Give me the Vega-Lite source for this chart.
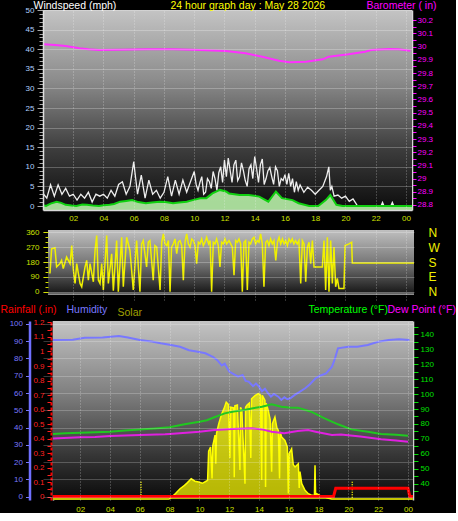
{
  "$schema": "https://vega.github.io/schema/vega-lite/v6.json",
  "background": "#000000",
  "padding": {"left": 0, "top": 0, "right": 0, "bottom": 0},
  "config": {
    "view": {"stroke": null},
    "font": "Liberation Sans",
    "axis": {"labelFont": "Liberation Sans", "titleFont": "Liberation Sans", "labelFontSize": 8, "titleFontSize": 10.5, "titleFontWeight": "normal", "labelOverlap": false, "labelFlush": false, "titlePadding": 0, "zindex": 1}
  },
  "datasets": {
    "gust": [{"h":0,"g":3.2},{"h":0.25,"g":2.0},{"h":0.5,"g":5.4},{"h":0.75,"g":2.5},{"h":1,"g":5.4},{"h":1.25,"g":3.0},{"h":1.5,"g":4.5},{"h":1.75,"g":2.5},{"h":2,"g":3.0},{"h":2.25,"g":1.5},{"h":2.5,"g":3.0},{"h":2.75,"g":2.0},{"h":3,"g":3.5},{"h":3.25,"g":1.0},{"h":3.5,"g":3.0},{"h":3.75,"g":2.5},{"h":4,"g":3.0},{"h":4.25,"g":2.0},{"h":4.5,"g":4.0},{"h":4.75,"g":2.5},{"h":5,"g":5.5},{"h":5.25,"g":6.2},{"h":5.5,"g":3.0},{"h":5.75,"g":5.0},{"h":6,"g":11.3},{"h":6.25,"g":3.0},{"h":6.5,"g":7.9},{"h":6.75,"g":2.0},{"h":7,"g":6.6},{"h":7.25,"g":3.0},{"h":7.5,"g":4.0},{"h":7.75,"g":2.0},{"h":8,"g":3.5},{"h":8.25,"g":7.5},{"h":8.5,"g":2.5},{"h":8.75,"g":6.6},{"h":9,"g":3.0},{"h":9.25,"g":6.6},{"h":9.5,"g":3.5},{"h":9.75,"g":6.2},{"h":10,"g":8.8},{"h":10.125,"g":5.5},{"h":10.25,"g":4.0},{"h":10.375,"g":6.0},{"h":10.5,"g":7.5},{"h":10.625,"g":3.0},{"h":10.75,"g":3.5},{"h":10.875,"g":7.0},{"h":11,"g":6.2},{"h":11.125,"g":4.5},{"h":11.25,"g":8.8},{"h":11.375,"g":7.0},{"h":11.5,"g":4.0},{"h":11.625,"g":8.5},{"h":11.75,"g":10.0},{"h":11.875,"g":6.0},{"h":12,"g":11.7},{"h":12.125,"g":7.5},{"h":12.25,"g":12.2},{"h":12.375,"g":9.0},{"h":12.5,"g":6.0},{"h":12.625,"g":10.5},{"h":12.75,"g":11.7},{"h":12.875,"g":6.5},{"h":13,"g":7.5},{"h":13.125,"g":11.0},{"h":13.25,"g":9.0},{"h":13.375,"g":6.5},{"h":13.5,"g":5.0},{"h":13.625,"g":9.5},{"h":13.75,"g":10.5},{"h":13.875,"g":7.0},{"h":14,"g":12.6},{"h":14.125,"g":9.5},{"h":14.25,"g":6.0},{"h":14.375,"g":10.5},{"h":14.5,"g":12.0},{"h":14.625,"g":5.5},{"h":14.75,"g":7.0},{"h":14.875,"g":9.0},{"h":15,"g":9.8},{"h":15.125,"g":7.5},{"h":15.25,"g":5.5},{"h":15.375,"g":10.0},{"h":15.5,"g":9.0},{"h":15.625,"g":5.0},{"h":15.75,"g":7.0},{"h":15.875,"g":6.5},{"h":16,"g":8.0},{"h":16.125,"g":5.5},{"h":16.25,"g":8.3},{"h":16.375,"g":5.0},{"h":16.5,"g":7.0},{"h":16.625,"g":3.5},{"h":16.75,"g":6.2},{"h":16.875,"g":4.0},{"h":17,"g":5.4},{"h":17.25,"g":3.5},{"h":17.5,"g":4.8},{"h":17.75,"g":4.0},{"h":18,"g":3.0},{"h":18.25,"g":4.0},{"h":18.5,"g":5.0},{"h":18.75,"g":7.5},{"h":18.9,"g":10.0},{"h":19,"g":4.0},{"h":19.1,"g":5.0},{"h":19.25,"g":2.5},{"h":19.5,"g":2.8},{"h":19.75,"g":2.0},{"h":20,"g":2.5},{"h":20.25,"g":1.2},{"h":20.5,"g":1.8},{"h":20.7,"g":0.6},{"h":20.8,"g":0},{"h":22.35,"g":0},{"h":22.45,"g":0.9},{"h":22.55,"g":0},{"h":23.0,"g":0},{"h":23.1,"g":0.9},{"h":23.2,"g":0},{"h":24.4,"g":0}],
    "avg": [{"h":0,"a":0.2},{"h":0.2,"a":0},{"h":0.5,"a":0.6},{"h":0.9,"a":1.1},{"h":1.2,"a":0.8},{"h":1.5,"a":0.3},{"h":1.9,"a":0.1},{"h":2.2,"a":0},{"h":2.6,"a":0.4},{"h":2.9,"a":0.3},{"h":3.3,"a":0.1},{"h":3.7,"a":0},{"h":4.0,"a":0.2},{"h":4.4,"a":0.3},{"h":4.7,"a":0.5},{"h":5.1,"a":1.1},{"h":5.5,"a":1.3},{"h":5.9,"a":1.5},{"h":6.3,"a":1.0},{"h":6.8,"a":0.7},{"h":7.2,"a":0.9},{"h":7.7,"a":1.1},{"h":8.1,"a":1.0},{"h":8.6,"a":0.7},{"h":9.0,"a":0.9},{"h":9.5,"a":1.1},{"h":9.9,"a":1.5},{"h":10.4,"a":2.0},{"h":10.8,"a":2.0},{"h":11.2,"a":3.2},{"h":11.7,"a":4.1},{"h":12.1,"a":3.7},{"h":12.3,"a":3.2},{"h":13.0,"a":2.8},{"h":13.6,"a":2.8},{"h":14.3,"a":2.4},{"h":14.9,"a":1.1},{"h":15.4,"a":3.7},{"h":15.8,"a":2.0},{"h":16.5,"a":1.5},{"h":16.9,"a":0.7},{"h":17.6,"a":0},{"h":18.2,"a":0},{"h":18.7,"a":1.5},{"h":19.0,"a":2.8},{"h":19.4,"a":0.3},{"h":19.8,"a":0},{"h":24.4,"a":0}],
    "baro": [{"h":0,"b":30.018},{"h":0.8,"b":30.012},{"h":1.5,"b":30.005},{"h":2.4,"b":29.988},{"h":3.0,"b":29.98},{"h":3.7,"b":29.975},{"h":5.0,"b":29.977},{"h":6.9,"b":29.98},{"h":8.6,"b":29.98},{"h":10.4,"b":29.975},{"h":12.1,"b":29.967},{"h":13.4,"b":29.95},{"h":14.5,"b":29.924},{"h":15.6,"b":29.894},{"h":16.3,"b":29.882},{"h":17.4,"b":29.886},{"h":18.5,"b":29.904},{"h":18.9,"b":29.924},{"h":20.2,"b":29.942},{"h":21.3,"b":29.962},{"h":21.7,"b":29.975},{"h":22.9,"b":29.982},{"h":23.5,"b":29.98},{"h":24.3,"b":29.97}],
    "dir": [{"h":0.46,"d":110},{"h":0.57,"d":260},{"h":0.79,"d":266},{"h":0.90,"d":150},{"h":1.12,"d":170},{"h":1.23,"d":190},{"h":1.34,"d":140},{"h":1.56,"d":210},{"h":1.79,"d":170},{"h":1.90,"d":280},{"h":2.01,"d":130},{"h":2.12,"d":50},{"h":2.23,"d":170},{"h":2.45,"d":50},{"h":2.56,"d":30},{"h":2.78,"d":150},{"h":2.89,"d":190},{"h":3.00,"d":70},{"h":3.11,"d":170},{"h":3.33,"d":60},{"h":3.44,"d":250},{"h":3.55,"d":340},{"h":3.66,"d":70},{"h":3.77,"d":50},{"h":3.88,"d":170},{"h":3.99,"d":10},{"h":4.21,"d":340},{"h":4.32,"d":50},{"h":4.54,"d":230},{"h":4.65,"d":6},{"h":4.87,"d":310},{"h":4.98,"d":0},{"h":5.20,"d":330},{"h":5.31,"d":30},{"h":5.53,"d":330},{"h":5.75,"d":250},{"h":5.97,"d":10},{"h":6.19,"d":310},{"h":6.41,"d":0},{"h":6.52,"d":290},{"h":6.63,"d":310},{"h":6.85,"d":150},{"h":6.96,"d":300},{"h":7.07,"d":310},{"h":7.29,"d":70},{"h":7.40,"d":280},{"h":7.52,"d":270},{"h":7.74,"d":10},{"h":7.85,"d":300},{"h":7.96,"d":350},{"h":8.07,"d":290},{"h":8.18,"d":280},{"h":8.29,"d":310},{"h":8.40,"d":0},{"h":8.50,"d":270},{"h":8.62,"d":290},{"h":8.73,"d":320},{"h":8.84,"d":230},{"h":8.95,"d":300},{"h":9.06,"d":310},{"h":9.17,"d":280},{"h":9.28,"d":70},{"h":9.39,"d":300},{"h":9.50,"d":350},{"h":9.61,"d":290},{"h":9.72,"d":270},{"h":9.83,"d":320},{"h":9.94,"d":310},{"h":10.05,"d":280},{"h":10.16,"d":170},{"h":10.27,"d":300},{"h":10.38,"d":290},{"h":10.49,"d":320},{"h":10.60,"d":280},{"h":10.71,"d":300},{"h":10.82,"d":330},{"h":10.95,"d":290},{"h":11.05,"d":310},{"h":11.15,"d":0},{"h":11.26,"d":300},{"h":11.37,"d":290},{"h":11.48,"d":320},{"h":11.59,"d":280},{"h":11.70,"d":150},{"h":11.81,"d":300},{"h":11.92,"d":290},{"h":12.03,"d":320},{"h":12.14,"d":290},{"h":12.30,"d":310},{"h":12.41,"d":290},{"h":12.52,"d":270},{"h":12.63,"d":100},{"h":12.74,"d":310},{"h":12.85,"d":300},{"h":12.96,"d":320},{"h":13.07,"d":290},{"h":13.18,"d":0},{"h":13.29,"d":300},{"h":13.40,"d":310},{"h":13.51,"d":10},{"h":13.62,"d":300},{"h":13.73,"d":290},{"h":13.84,"d":320},{"h":13.95,"d":330},{"h":14.06,"d":290},{"h":14.17,"d":310},{"h":14.28,"d":300},{"h":14.39,"d":350},{"h":14.50,"d":290},{"h":14.61,"d":30},{"h":14.72,"d":300},{"h":14.83,"d":310},{"h":14.94,"d":280},{"h":15.05,"d":320},{"h":15.16,"d":290},{"h":15.27,"d":310},{"h":15.39,"d":190},{"h":15.50,"d":300},{"h":15.61,"d":330},{"h":15.72,"d":290},{"h":15.83,"d":320},{"h":15.94,"d":290},{"h":16.05,"d":310},{"h":16.16,"d":280},{"h":16.27,"d":320},{"h":16.38,"d":300},{"h":16.48,"d":320},{"h":16.59,"d":290},{"h":16.70,"d":310},{"h":16.81,"d":290},{"h":16.92,"d":310},{"h":17.04,"d":50},{"h":17.15,"d":310},{"h":17.26,"d":290},{"h":17.37,"d":60},{"h":17.48,"d":270},{"h":17.59,"d":300},{"h":17.70,"d":170},{"h":17.81,"d":310},{"h":17.92,"d":150},{"h":18.03,"d":150},{"h":18.25,"d":150},{"h":18.47,"d":150},{"h":18.58,"d":310},{"h":18.69,"d":10},{"h":18.80,"d":330},{"h":18.91,"d":0},{"h":19.02,"d":310},{"h":19.13,"d":50},{"h":19.24,"d":270},{"h":19.35,"d":30},{"h":19.46,"d":80},{"h":19.57,"d":20},{"h":19.90,"d":20},{"h":19.97,"d":280},{"h":20.23,"d":290},{"h":20.41,"d":300},{"h":20.45,"d":174},{"h":24.53,"d":174}],
    "hum": [{"h":0.17,"v":90.7},{"h":1.5,"v":90.9},{"h":2.3,"v":92},{"h":3.5,"v":92.2},{"h":4.6,"v":93},{"h":5.2,"v":92.2},{"h":6.0,"v":90.7},{"h":6.8,"v":89.8},{"h":7.4,"v":88.8},{"h":8.1,"v":87.8},{"h":8.7,"v":86.8},{"h":9.3,"v":84.8},{"h":9.8,"v":84},{"h":10.4,"v":83},{"h":10.9,"v":81},{"h":11.2,"v":79},{"h":11.5,"v":76},{"h":11.7,"v":77},{"h":12.0,"v":72.4},{"h":12.3,"v":71},{"h":12.6,"v":69.5},{"h":12.9,"v":70.5},{"h":13.1,"v":67},{"h":13.3,"v":66.6},{"h":13.6,"v":64},{"h":13.8,"v":65.5},{"h":14.0,"v":63.7},{"h":14.2,"v":61},{"h":14.4,"v":62.5},{"h":14.6,"v":59.9},{"h":14.8,"v":58},{"h":15.0,"v":59.5},{"h":15.3,"v":57.9},{"h":15.5,"v":56},{"h":15.7,"v":57.5},{"h":15.9,"v":56.4},{"h":16.1,"v":57},{"h":16.4,"v":58.9},{"h":16.7,"v":60.5},{"h":17.1,"v":62.8},{"h":17.4,"v":65},{"h":17.8,"v":68.6},{"h":18.1,"v":70},{"h":18.5,"v":71.4},{"h":18.9,"v":75.3},{"h":19.1,"v":80},{"h":19.3,"v":85.9},{"h":20.0,"v":86.8},{"h":20.6,"v":86.8},{"h":21.3,"v":87.8},{"h":22.0,"v":89.7},{"h":22.7,"v":90.7},{"h":23.4,"v":91.1},{"h":24.1,"v":90.7}],
    "temp": [{"h":0.17,"t":73.3},{"h":1,"t":73.8},{"h":2,"t":74.2},{"h":3,"t":74.5},{"h":4,"t":74.9},{"h":5,"t":75.6},{"h":6,"t":76.4},{"h":7,"t":77.0},{"h":8,"t":77.8},{"h":9,"t":79.8},{"h":10,"t":81.5},{"h":10.5,"t":82.5},{"h":11,"t":84.5},{"h":11.7,"t":87.1},{"h":12.3,"t":88.3},{"h":13,"t":89.3},{"h":13.6,"t":90.5},{"h":14.2,"t":91.5},{"h":14.85,"t":93.1},{"h":15.5,"t":91.5},{"h":16,"t":91.0},{"h":16.6,"t":90.9},{"h":17.5,"t":88.2},{"h":18.4,"t":83.8},{"h":19.3,"t":79.8},{"h":20.2,"t":76.4},{"h":21.3,"t":74.9},{"h":22.2,"t":73.3},{"h":23.2,"t":72.8},{"h":24.0,"t":72.2}],
    "dew": [{"h":0.17,"p":70.4},{"h":2,"p":71.1},{"h":3,"p":71.4},{"h":4,"p":72.0},{"h":6,"p":72.7},{"h":7.7,"p":73.1},{"h":8,"p":73.3},{"h":10,"p":74.9},{"h":11,"p":76.0},{"h":12.2,"p":76.7},{"h":13.5,"p":77.1},{"h":14.2,"p":76.4},{"h":14.85,"p":74.9},{"h":15.7,"p":73.8},{"h":16.6,"p":75.3},{"h":17.3,"p":76.0},{"h":17.8,"p":74.9},{"h":18.9,"p":72.7},{"h":19.5,"p":73.0},{"h":20.8,"p":71.6},{"h":22.2,"p":69.8},{"h":23.2,"p":69.0},{"h":24.0,"p":68.2}],
    "solar": [{"h":0.17,"s":0},{"h":7.95,"s":0},{"h":8.1,"s":10},{"h":8.4,"s":40},{"h":8.7,"s":75},{"h":9.0,"s":100},{"h":9.2,"s":120},{"h":9.45,"s":148},{"h":9.7,"s":130},{"h":9.95,"s":124},{"h":10.2,"s":115},{"h":10.45,"s":130},{"h":10.55,"s":136},{"h":10.62,"s":350},{"h":10.75,"s":380},{"h":10.85,"s":150},{"h":10.9,"s":390},{"h":11.05,"s":467},{"h":11.1,"s":258},{"h":11.15,"s":480},{"h":11.3,"s":550},{"h":11.5,"s":623},{"h":11.65,"s":660},{"h":11.8,"s":708},{"h":11.95,"s":690},{"h":12.05,"s":300},{"h":12.1,"s":670},{"h":12.3,"s":665},{"h":12.34,"s":160},{"h":12.38,"s":680},{"h":12.55,"s":686},{"h":12.72,"s":212},{"h":12.76,"s":670},{"h":12.85,"s":647},{"h":13.06,"s":112},{"h":13.1,"s":670},{"h":13.2,"s":686},{"h":13.35,"s":700},{"h":13.45,"s":300},{"h":13.5,"s":732},{"h":13.75,"s":757},{"h":13.95,"s":769},{"h":14.1,"s":760},{"h":14.18,"s":139},{"h":14.22,"s":757},{"h":14.4,"s":720},{"h":14.44,"s":88},{"h":14.48,"s":700},{"h":14.62,"s":647},{"h":14.75,"s":580},{"h":14.85,"s":200},{"h":14.9,"s":550},{"h":15.07,"s":599},{"h":15.2,"s":520},{"h":15.3,"s":501},{"h":15.38,"s":150},{"h":15.42,"s":490},{"h":15.52,"s":453},{"h":15.74,"s":428},{"h":15.9,"s":380},{"h":15.97,"s":40},{"h":16.02,"s":331},{"h":16.19,"s":367},{"h":16.3,"s":250},{"h":16.42,"s":234},{"h":16.64,"s":258},{"h":16.7,"s":80},{"h":16.75,"s":200},{"h":16.87,"s":112},{"h":17.09,"s":64},{"h":17.31,"s":39},{"h":17.5,"s":30},{"h":17.72,"s":25},{"h":17.76,"s":246},{"h":17.8,"s":30},{"h":17.87,"s":39},{"h":18.09,"s":27},{"h":18.43,"s":15},{"h":18.6,"s":8},{"h":18.88,"s":0},{"h":24.33,"s":0}],
    "rain": [{"h":0.17,"r":0},{"h":19.0,"r":0},{"h":19.15,"r":0.057},{"h":24.0,"r":0.057},{"h":24.12,"r":0},{"h":24.33,"r":0}],
    "sun": [{"event":"sunrise","h":6.08},{"event":"sunset","h":20.26}]
  },
  "bounds": "flush",
  "spacing": 20,
  "vconcat": [
    {
      "width": 369,
      "height": 200,
      "resolve": {"scale": {"y": "independent"}, "axis": {"x": "independent", "y": "independent"}},
      "layer": [
        {
          "data": {"values": [{}]},
          "mark": {"type": "rect", "color": {"gradient": "linear", "x1": 0, "y1": 0, "x2": 0, "y2": 1, "stops": [{"offset": 0, "color": "#c4c4c4"}, {"offset": 0.35, "color": "#8c8c8c"}, {"offset": 0.7, "color": "#3c3c3c"}, {"offset": 1, "color": "#0c0c0c"}]}},
          "encoding": {
            "x": {"datum": 0, "type": "quantitative", "scale": {"domain": [0, 24.4], "nice": false, "zero": false},
              "axis": {"zindex": 1, "values": [2,4,6,8,10,12,14,16,18,20,22,24], "labelExpr": "datum.value == 24 ? '00' : (datum.value < 10 ? '0' + datum.value : '' + datum.value)", "labelOverlap": false, "labelColor": "#d0e000", "labelPadding": 4, "ticks": false, "tickSize": 0, "domain": true, "domainColor": "#d8d8d8", "domainWidth": 1.5, "grid": true, "gridColor": "#ffffff", "gridOpacity": 0.4, "gridDash": [1, 2], "title": "24 hour graph day : May 28 2026", "titleColor": "#ffff00", "titleX": 127, "titleY": -205, "titleAlign": "left", "titleBaseline": "middle", "titleAngle": 0}},
            "x2": {"datum": 24.4}
          }
        },
        {
          "resolve": {"axis": {"x": "independent", "y": "independent"}},
          "layer": [
            {
              "data": {"name": "avg"},
              "mark": {"type": "area", "color": "#b8f0a8", "opacity": 0.9, "clip": true},
              "encoding": {
                "x": {"field": "h", "type": "quantitative", "axis": null},
                "y": {"field": "a", "type": "quantitative", "scale": {"domain": [-1.02, 50], "nice": false, "zero": false},
                  "axis": {"zindex": 1, "orient": "left", "values": [0,1,2,3,4,5,6,7,8,9,10,11,12,13,14,15,16,17,18,19,20,21,22,23,24,25,26,27,28,29,30,31,32,33,34,35,36,37,38,39,40,41,42,43,44,45,46,47,48,49,50], "labelExpr": "datum.value % 5 == 0 ? '' + datum.value : ''", "labelOverlap": false, "labelColor": "#b0d0ff", "labelPadding": 3, "tickColor": "#a8a8a8", "tickSize": {"condition": {"test": "datum.value % 5 == 0", "value": 6}, "value": 4}, "domain": true, "domainColor": "#e0e0e0", "domainWidth": 1.5, "grid": true, "gridColor": "#ffffff", "gridOpacity": {"condition": {"test": "datum.value % 5 == 0 && datum.value > 0", "value": 0.25}, "value": 0}, "title": "Windspeed (mph)", "titleColor": "#ffffff", "titleX": -10, "titleY": -5, "titleAlign": "left", "titleBaseline": "middle", "titleAngle": 0}},
                "y2": {"datum": -1.02}
              }
            },
            {
              "data": {"name": "gust"},
              "mark": {"type": "line", "color": "#eeeeee", "strokeWidth": 1.3, "clip": true},
              "encoding": {
                "x": {"field": "h", "type": "quantitative", "axis": null},
                "y": {"field": "g", "type": "quantitative", "axis": null}
              }
            },
            {
              "data": {"name": "avg"},
              "mark": {"type": "line", "color": "#10d010", "strokeWidth": 2, "clip": true},
              "encoding": {
                "x": {"field": "h", "type": "quantitative", "axis": null},
                "y": {"field": "a", "type": "quantitative", "axis": null}
              }
            }
          ]
        },
        {
          "data": {"name": "baro"},
          "mark": {"type": "line", "color": "#ff30ff", "strokeWidth": 2, "clip": true},
          "encoding": {
            "x": {"field": "h", "type": "quantitative", "axis": null},
            "y": {"field": "b", "type": "quantitative", "scale": {"domain": [28.762, 30.278], "nice": false, "zero": false},
              "axis": {"orient": "right", "values": [28.8,28.85,28.9,28.95,29,29.05,29.1,29.15,29.2,29.25,29.3,29.35,29.4,29.45,29.5,29.55,29.6,29.65,29.7,29.75,29.8,29.85,29.9,29.95,30,30.05,30.1,30.15,30.2], "labelExpr": "abs(datum.value*10 - round(datum.value*10)) < 0.01 ? format(datum.value, '~g') : ''", "labelOverlap": false, "labelColor": "#ff00ff", "labelPadding": 1, "tickColor": "#ff00ff", "tickSize": 4, "domain": true, "domainColor": "#d8d8d8", "domainWidth": 1.5, "grid": false, "title": "Barometer ( in)", "titleColor": "#ff00ff", "titleX": -46, "titleY": -5, "titleAlign": "left", "titleBaseline": "middle", "titleAngle": 0}}
          }
        }
      ]
    },
    {
      "width": 371,
      "height": 71,
      "resolve": {"axis": {"x": "independent", "y": "independent"}},
      "layer": [
        {
          "data": {"values": [{}]},
          "mark": {"type": "rect", "color": {"gradient": "linear", "x1": 0, "y1": 0, "x2": 0, "y2": 1, "stops": [{"offset": 0, "color": "#c0c0c0"}, {"offset": 0.5, "color": "#787878"}, {"offset": 0.95, "color": "#1c1c1c"}, {"offset": 1, "color": "#a0a0a0"}]}},
          "encoding": {
            "x": {"datum": 0.33, "type": "quantitative", "scale": {"domain": [0, 24.53], "nice": false, "zero": false},
              "axis": {"zindex": 1, "values": [2,4,6,8,10,12,14,16,18,20,22,24], "labels": false, "ticks": false, "tickSize": 0, "domain": false, "grid": true, "gridColor": "#ffffff", "gridOpacity": 0.4, "gridDash": [1, 2], "title": null}},
            "x2": {"datum": 24.53},
            "y": {"datum": 374, "type": "quantitative", "scale": {"domain": [-56.4, 374], "nice": false, "zero": false}, "axis": null},
            "y2": {"datum": -20}
          }
        },
        {
          "data": {"name": "dir"},
          "mark": {"type": "line", "color": "#f0f000", "strokeWidth": 1.5, "clip": true},
          "encoding": {
            "x": {"field": "h", "type": "quantitative", "axis": null},
            "y": {"field": "d", "type": "quantitative", "scale": {"domain": [-56.4, 374], "nice": false, "zero": false},
              "axis": {"zindex": 1, "orient": "left", "offset": -5, "values": [0,30,60,90,120,150,180,210,240,270,300,330,360], "labelExpr": "datum.value % 90 == 0 ? '' + datum.value : ''", "labelOverlap": false, "labelColor": "#d0e000", "labelPadding": 4, "tickColor": "#d0e000", "tickSize": {"condition": {"test": "datum.value % 90 == 0", "value": 5}, "value": 3}, "domain": false, "grid": true, "gridColor": "#ffffff", "gridOpacity": {"condition": {"test": "datum.value % 90 == 0", "value": 0.25}, "value": 0}, "title": null}}
          }
        },
        {
          "data": {"name": "dir"},
          "mark": {"type": "point", "opacity": 0},
          "encoding": {
            "x": {"field": "h", "type": "quantitative", "axis": null},
            "y": {"field": "d", "type": "quantitative",
              "axis": {"orient": "right", "values": [0,90,180,270,360], "labelExpr": "datum.value == 90 ? 'E' : (datum.value == 180 ? 'S' : (datum.value == 270 ? 'W' : 'N'))", "labelOverlap": false, "labelColor": "#f0f000", "labelFontSize": 12, "labelPadding": 14, "ticks": false, "tickSize": 0, "domain": false, "grid": false, "title": null}}
          }
        }
      ]
    },
    {
      "width": 370,
      "height": 179,
      "resolve": {"scale": {"y": "independent"}, "axis": {"x": "independent", "y": "independent"}},
      "layer": [
        {
          "data": {"values": [{}]},
          "mark": {"type": "rect", "color": {"gradient": "linear", "x1": 0, "y1": 0, "x2": 0, "y2": 1, "stops": [{"offset": 0, "color": "#c4c4c4"}, {"offset": 0.4, "color": "#808080"}, {"offset": 0.75, "color": "#363636"}, {"offset": 1, "color": "#0a0a0a"}]}},
          "encoding": {
            "x": {"datum": 0.17, "type": "quantitative", "scale": {"domain": [-0.4966, 24.336], "nice": false, "zero": false},
              "axis": {"zindex": 1, "values": [2,4,6,8,10,12,14,16,18,20,22,24], "labelExpr": "datum.value == 24 ? '00' : (datum.value < 10 ? '0' + datum.value : '' + datum.value)", "labelOverlap": false, "labelColor": "#d0e000", "labelPadding": 5, "ticks": false, "tickSize": 0, "domain": false, "grid": true, "gridColor": "#ffffff", "gridOpacity": 0.4, "gridDash": [1, 2], "title": null}},
            "x2": {"datum": 24.336}
          }
        },
        {
          "resolve": {"axis": {"x": "independent", "y": "independent"}},
          "layer": [
            {
              "data": {"name": "solar"},
              "mark": {"type": "area", "color": "#ffff00", "line": {"color": "#ffff00", "strokeWidth": 1.5}, "clip": true},
              "encoding": {
                "x": {"field": "h", "type": "quantitative", "axis": null},
                "y": {"field": "s", "type": "quantitative", "scale": {"domain": [-7, 1300], "nice": false, "zero": false},
                  "axis": {"orient": "left", "offset": -10, "labels": false, "ticks": false, "tickSize": 0, "domain": true, "domainColor": "#e8e8e8", "domainWidth": 1.5, "grid": false, "title": "Solar", "titleColor": "#a0a000", "titleX": 64, "titleY": -8.5, "titleAlign": "left", "titleBaseline": "middle", "titleAngle": 0}},
                "y2": {"datum": 0}
              }
            },
            {
              "data": {"name": "sun"},
              "mark": {"type": "rule", "color": "#ffff00", "strokeWidth": 1.5, "strokeDash": [1, 1.5]},
              "encoding": {
                "x": {"field": "h", "type": "quantitative", "axis": null},
                "y": {"datum": 126, "axis": null},
                "y2": {"datum": 0}
              }
            }
          ]
        },
        {
          "data": {"name": "hum"},
          "mark": {"type": "line", "color": "#7878ff", "strokeWidth": 2, "clip": true},
          "encoding": {
            "x": {"field": "h", "type": "quantitative", "axis": null},
            "y": {"field": "v", "type": "quantitative", "scale": {"domain": [-1.9, 101.7], "nice": false, "zero": false},
              "axis": {"zindex": 1, "orient": "left", "offset": 13.5, "values": [0,10,20,30,40,50,60,70,80,90,100], "labelOverlap": false, "labelColor": "#7878ff", "labelPadding": 3, "tickColor": "#7878ff", "tickSize": 4, "domain": true, "domainColor": "#7070ff", "domainWidth": 2.5, "grid": true, "gridColor": "#ffffff", "gridOpacity": 0.22, "title": "Humidity", "titleColor": "#7878ff", "titleX": 36.5, "titleY": -12, "titleAlign": "left", "titleBaseline": "middle", "titleAngle": 0}}
          }
        },
        {
          "data": {"name": "temp"},
          "mark": {"type": "line", "color": "#20c820", "strokeWidth": 2, "clip": true},
          "encoding": {
            "x": {"field": "h", "type": "quantitative", "axis": null},
            "y": {"field": "t", "type": "quantitative", "scale": {"domain": [29.33, 148.67], "nice": false, "zero": false},
              "axis": {"orient": "right", "values": [35,40,45,50,55,60,65,70,75,80,85,90,95,100,105,110,115,120,125,130,135,140,145], "labelExpr": "datum.value % 10 == 0 && datum.value >= 40 && datum.value <= 140 ? '' + datum.value : ''", "labelOverlap": false, "labelColor": "#00e000", "labelPadding": 2, "tickColor": "#00e000", "tickSize": 5, "domain": true, "domainColor": "#d0d0d0", "domainWidth": 1.5, "grid": false, "title": "Temperature (°F)", "titleColor": "#00ff00", "titleX": -105, "titleY": -12, "titleAlign": "left", "titleBaseline": "middle", "titleAngle": 0}}
          }
        },
        {
          "data": {"name": "dew"},
          "mark": {"type": "line", "color": "#e020e0", "strokeWidth": 2, "clip": true},
          "encoding": {
            "x": {"field": "h", "type": "quantitative", "axis": null},
            "y": {"field": "p", "type": "quantitative", "scale": {"domain": [29.33, 148.67], "nice": false, "zero": false},
              "axis": {"orient": "right", "labels": false, "ticks": false, "tickSize": 0, "domain": false, "grid": false, "title": "Dew Point (°F)", "titleColor": "#ff00ff", "titleX": -26, "titleY": -12, "titleAlign": "left", "titleBaseline": "middle", "titleAngle": 0}}
          }
        },
        {
          "data": {"name": "rain"},
          "mark": {"type": "line", "color": "#ff0000", "strokeWidth": 3, "clip": true},
          "encoding": {
            "x": {"field": "h", "type": "quantitative", "axis": null},
            "y": {"field": "r", "type": "quantitative", "scale": {"domain": [-0.024, 1.2103], "nice": false, "zero": false},
              "axis": {"orient": "left", "offset": -8, "values": [0,0.05,0.1,0.15,0.2,0.25,0.3,0.35,0.4,0.45,0.5,0.55,0.6,0.65,0.7,0.75,0.8,0.85,0.9,0.95,1,1.05,1.1,1.15,1.2], "labelExpr": "abs(datum.value*10 - round(datum.value*10)) < 0.01 ? format(datum.value, '~g') : ''", "labelOverlap": false, "labelColor": "#ff2020", "labelPadding": 3, "tickColor": "#ff2020", "tickSize": 4, "domain": true, "domainColor": "#ff0000", "domainWidth": 2, "domainDash": [3, 2], "grid": false, "title": "Rainfall (.in)", "titleColor": "#ff0000", "titleX": -51, "titleY": -12, "titleAlign": "left", "titleBaseline": "middle", "titleAngle": 0}}
          }
        }
      ]
    }
  ]
}
